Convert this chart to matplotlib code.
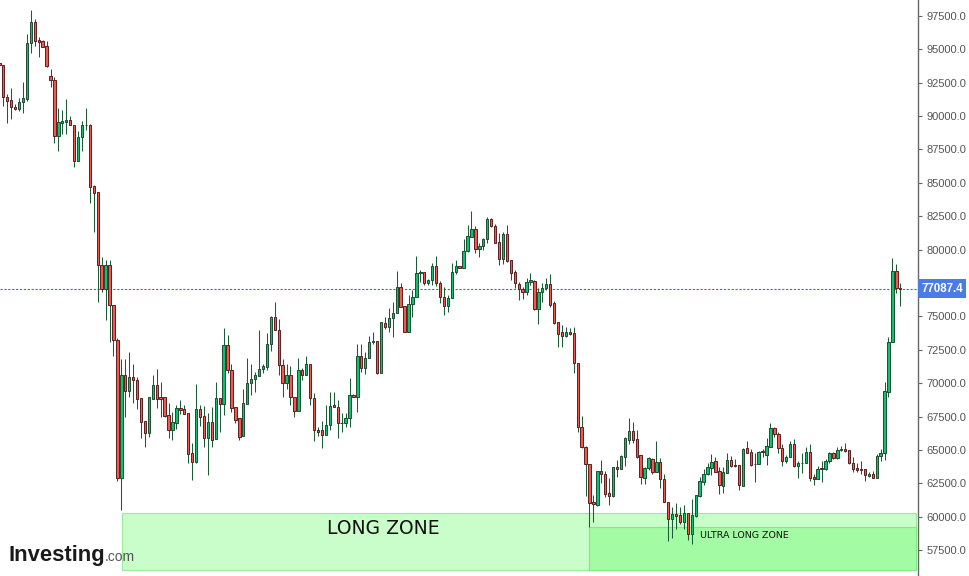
import numpy as np
import matplotlib
matplotlib.use("Agg")
import matplotlib.pyplot as plt
from matplotlib.patches import Rectangle
import matplotlib.transforms as mtransforms

# candle data (oldest -> newest)
opens = [93980, 93807, 91410, 91208, 90684, 90556, 91036, 91305, 95455, 97028,
         95680, 95605, 95230, 92983, 92684, 88489, 89508, 89582, 89687, 89335,
         86661, 88414, 89300, 89313, 84766, 84294, 78848, 77026, 78848, 75830,
         73230, 62916, 70586, 69388, 70459, 70234, 68864, 67141, 66287, 68834,
         69837, 68961, 68961, 67613, 66512, 67036, 68114, 68039, 67740, 64744,
         64115, 68039, 67538, 65913, 67066, 65838, 68886, 68414, 72834, 70961,
         68189, 67366, 66062, 68459, 69987, 70287, 70534, 71036, 71231, 72909,
         74977, 73958, 71337, 69987, 70586, 68938, 67935, 70961, 70586, 71410,
         68864, 66489, 66467, 66092, 66841, 68339, 68189, 67036, 66991, 67366,
         69088, 68938, 72032, 71156, 71860, 73059, 73134, 70781, 74481, 74227,
         74856, 75230, 77178, 75777, 73853, 75904, 76430, 78226, 78301, 77478,
         77725, 78751, 77478, 76430, 75800, 76377, 78301, 78751, 78646, 79897,
         80971, 81525, 80070, 80250, 80773, 82271, 81792, 80549, 79320, 81148,
         79200, 78301, 77448, 77051, 76849, 77598, 77628, 75553, 76804, 77103,
         77403, 75979, 74557, 73807, 73508, 73853, 73733, 71486, 66736, 65237,
         63943, 61096, 60872, 63419, 63171, 61770, 61523, 63717, 63591, 64490,
         65740, 66415, 65815, 64617, 62916, 63621, 64317, 63366, 64070, 62796,
         61118, 59822, 60197, 60122, 59620, 60294, 58676, 60070, 61567, 62616,
         63171, 63666, 64168, 63419, 62316, 63246, 64242, 63868, 63868, 62316,
         65118, 64840, 63920, 63965, 64939, 64617, 65238, 66616, 66190, 65141,
         64190, 64445, 65441, 63816, 63980, 63995, 64840, 62991, 62841, 63620,
         63545, 64145, 64744, 64370, 64968, 65043, 64991, 63995, 63620, 63545,
         63545, 63066, 63171, 62916, 64565, 64744, 69358, 73059, 78397, 77148]
highs = [94050, 93807, 91657, 92107, 90908, 91358, 92556, 96152, 97949, 97275,
         95927, 95702, 95627, 93530, 92908, 90609, 90459, 91283, 90008, 89335,
         88886, 89635, 90609, 89411, 84841, 84294, 79425, 79223, 79223, 75830,
         73380, 71830, 71830, 72332, 71433, 70481, 68864, 67141, 68961, 70586,
         71058, 70107, 68961, 68488, 67815, 68362, 68736, 68362, 67740, 65493,
         69912, 68362, 68287, 67740, 68234, 70085, 68886, 74107, 73583, 71433,
         68189, 67366, 69538, 71860, 71410, 70856, 73980, 71410, 73733, 75052,
         76099, 74781, 71830, 71433, 71283, 68938, 71860, 71111, 72032, 71410,
         69283, 66736, 67163, 68362, 69313, 69313, 68736, 67740, 67740, 70362,
         69163, 72909, 72909, 72354, 73530, 73853, 73134, 74557, 74977, 75605,
         76099, 78397, 77478, 75777, 76601, 76975, 79522, 78476, 78346, 77777,
         78976, 79522, 77628, 77223, 76580, 78976, 79223, 78796, 80773, 81845,
         82892, 81769, 80474, 80848, 82466, 82391, 81920, 81223, 81343, 81845,
         79200, 78476, 77598, 77178, 77852, 78226, 77725, 77103, 77478, 77897,
         78174, 76174, 74557, 74354, 74227, 74107, 74182, 71486, 67561, 65290,
         63943, 61620, 63419, 64242, 63419, 62916, 63741, 64242, 64617, 65988,
         67366, 67111, 66489, 64617, 63741, 64490, 64370, 65665, 64370, 63193,
         61118, 60745, 61043, 60745, 60872, 60294, 61320, 61620, 62991, 63568,
         63995, 64669, 64445, 63741, 63741, 64744, 64542, 64293, 63868, 65163,
         65665, 65043, 64744, 64939, 65043, 65868, 67036, 66736, 66362, 65441,
         64617, 65688, 65793, 64190, 64789, 65238, 65441, 63193, 63793, 64168,
         64317, 64864, 64819, 65238, 65290, 65493, 64991, 64490, 63995, 64168,
         63545, 63321, 63419, 64692, 65043, 70107, 73478, 79395, 78923, 77523]
lows = [93750, 90758, 89507, 89807, 90459, 90406, 90257, 91156, 94751, 95275,
        94451, 95200, 93702, 92204, 88010, 87410, 88684, 88684, 89313, 86211,
        86661, 87410, 88961, 83515, 81343, 76099, 76852, 74729, 73103, 72032,
        62691, 60496, 67486, 68983, 68534, 68084, 65913, 65237, 65988, 68834,
        68137, 67441, 67441, 65913, 65763, 66586, 67688, 67710, 64040, 62744,
        64040, 66789, 65194, 63118, 65237, 65838, 66362, 67590, 70781, 67860,
        66991, 65740, 66062, 68459, 69111, 69358, 70534, 70781, 70983, 72429,
        73958, 70609, 68938, 69538, 68362, 67486, 67935, 70234, 70586, 68362,
        65688, 66040, 65118, 66092, 66489, 68189, 65913, 66362, 66736, 66736,
        68938, 67860, 70856, 70661, 71860, 72931, 70661, 70736, 74055, 73853,
        73478, 75230, 75680, 73853, 73853, 74977, 76430, 77598, 77350, 77350,
        77350, 77275, 75979, 75103, 75351, 76377, 78174, 78601, 78646, 79844,
        80923, 79770, 79425, 79972, 80519, 81717, 80474, 78848, 78923, 79096,
        77725, 77103, 76227, 76302, 76601, 77350, 75478, 74429, 76099, 76975,
        75725, 74429, 72728, 72684, 73433, 73605, 70781, 66317, 65118, 61567,
        59245, 59620, 60797, 62496, 61493, 60872, 61493, 62946, 63591, 63816,
        65441, 65493, 64415, 62421, 62421, 63493, 63171, 63366, 62122, 61073,
        58198, 58377, 59073, 59448, 59073, 58249, 57950, 59995, 61493, 62346,
        63096, 63096, 63321, 61695, 61747, 63246, 63693, 63741, 61995, 62316,
        64744, 63816, 62616, 63965, 64445, 63868, 65238, 65941, 64789, 63816,
        63995, 64445, 63741, 62916, 63246, 63995, 62646, 62391, 62841, 62571,
        63493, 63995, 64295, 64295, 64940, 64840, 63920, 63366, 63366, 63193,
        62691, 62946, 62871, 62916, 64190, 64243, 68983, 73059, 76728, 75800]
closes = [93830, 91410, 91156, 90661, 90556, 91036, 91335, 95455, 97028, 95650,
          95575, 95200, 93732, 92684, 88489, 89538, 89635, 89710, 89313, 86661,
          88414, 89313, 89330, 84714, 84264, 78826, 77026, 78848, 75830, 73230,
          62916, 70586, 69388, 70459, 70212, 68834, 67111, 66287, 68961, 69837,
          68834, 68834, 67561, 66512, 67088, 68114, 68009, 67710, 64714, 64115,
          68039, 67486, 65913, 67066, 65763, 68886, 68414, 72834, 70961, 68159,
          67261, 65988, 68489, 69987, 70287, 70586, 71059, 71283, 72909, 74977,
          73958, 71337, 69987, 70586, 68938, 67935, 70961, 70586, 71410, 68864,
          66467, 66362, 66092, 66841, 68309, 68189, 66991, 66991, 67366, 69088,
          68938, 72032, 71156, 71860, 73059, 73134, 70781, 74557, 74227, 74856,
          75230, 77178, 75725, 73853, 75904, 76430, 78226, 78326, 77478, 77725,
          78751, 77478, 76430, 75800, 76377, 78301, 78751, 78646, 79897, 81021,
          81525, 80070, 80250, 80773, 82271, 81792, 80474, 79320, 81148, 79170,
          78226, 77523, 77051, 76849, 77598, 77725, 75553, 76804, 77103, 77403,
          75852, 74481, 73658, 73508, 73853, 73703, 71486, 66736, 65237, 63919,
          61043, 60923, 63419, 63171, 61717, 61567, 63741, 63591, 64542, 65868,
          66415, 65718, 64490, 62991, 63621, 64415, 63321, 64070, 62796, 61118,
          59800, 60174, 60070, 59620, 60249, 58676, 60122, 61620, 62669, 63193,
          63741, 64070, 63366, 62369, 63321, 64242, 63816, 63793, 62369, 65066,
          64789, 63868, 63965, 64864, 64819, 65290, 66616, 66167, 65118, 64190,
          64490, 65441, 63793, 64040, 64010, 64840, 62916, 62841, 63568, 63545,
          64145, 64744, 64370, 64991, 65043, 64939, 63995, 63591, 63493, 63493,
          63118, 63171, 62916, 64565, 64744, 69411, 73059, 78397, 77148, 77087.4]

last_price = 77087.4
long_zone = (60275, 56006)     # top, bottom
ultra_zone = (59226, 56006)
long_start = 31.2              # candle index where the zones begin
ultra_start = 149.9
price_ticks = np.arange(57500, 97501, 2500)

o = np.array(opens, float)
h = np.array(highs, float)
l = np.array(lows, float)
c = np.array(closes, float)
x = np.arange(len(o))
up = c >= o

fig = plt.figure(figsize=(9.69, 5.76), dpi=100)
ax = fig.add_axes([0, 0, 918 / 969, 1])

x_right = 233.5
ax.set_xlim(0.16, x_right)
ax.set_ylim(55553, 98698)

# zones
ax.add_patch(Rectangle((long_start, long_zone[1]), x_right - 0.5 - long_start,
                       long_zone[0] - long_zone[1], facecolor="#c9fdc9",
                       edgecolor="#9fe89f", lw=0.8, zorder=0))
ax.add_patch(Rectangle((ultra_start, ultra_zone[1]), x_right - 0.5 - ultra_start,
                       ultra_zone[0] - ultra_zone[1], facecolor="#a3fba3",
                       edgecolor="#84e884", lw=0.8, zorder=0.5))

# candles
ax.vlines(x, l, h, color="#1c5a38", lw=0.75, zorder=2)
body_w = 0.6
for mask, fc, ec in [(up, "#12c06c", "#1b4d32"), (~up, "#f2584e", "#5e1e1e")]:
    bottom = np.minimum(o, c)[mask]
    height = np.maximum(np.abs(c - o)[mask], 40)
    ax.bar(x[mask], height, bottom=bottom, width=body_w, color=fc,
           edgecolor=ec, linewidth=0.7, zorder=3)

# last price line
ax.axhline(last_price, color="#3e6bd6", lw=0.8, ls=(0, (2, 1.5)), zorder=1)

ax.text(383.5 / 918, 1 - 528 / 576, "LONG ZONE", transform=ax.transAxes,
        ha="center", va="center", fontsize=13.5, color="#111111",
        family="DejaVu Sans")
ax.text(700 / 918, 1 - 535 / 576, "ULTRA LONG ZONE", transform=ax.transAxes,
        ha="left", va="center", fontsize=6.8, color="#111111",
        family="DejaVu Sans")

# axis styling
for side in ["left", "top", "bottom"]:
    ax.spines[side].set_visible(False)
ax.spines["right"].set_color("#666666")
ax.spines["right"].set_linewidth(1.0)
ax.set_xticks([])
ax.yaxis.tick_right()
ax.set_yticks(price_ticks)
ax.set_yticklabels([f"{v:.1f}" for v in price_ticks])
ax.tick_params(axis="y", length=3, width=0.8, color="#666666",
               labelcolor="#555555", labelsize=8, pad=3)
for lab in ax.get_yticklabels():
    lab.set_family("Liberation Sans")

# price label on the axis
trans = mtransforms.blended_transform_factory(fig.transFigure, ax.transData)
ax.text(921.5 / 969, last_price, f"{last_price:.1f}", transform=trans,
        ha="left", va="center", fontsize=8.3, color="white",
        fontweight="bold", family="Liberation Sans", clip_on=False, zorder=10,
        bbox=dict(boxstyle="square,pad=0.28", fc="#4a7ce6", ec="none"))

# logo
logo = fig.text(8 / 969, 1 - 561 / 576, "Investing", fontsize=15.8,
                fontweight="bold", family="Liberation Sans", color="#1a1a1a",
                va="baseline")
fig.canvas.draw()
bb = logo.get_window_extent()
fig.text(bb.x1 / 969 + 0.5 / 969, 1 - 561 / 576, ".com", fontsize=10,
         family="Liberation Sans", color="#555555", va="baseline")

fig.savefig("out.png", dpi=100)
